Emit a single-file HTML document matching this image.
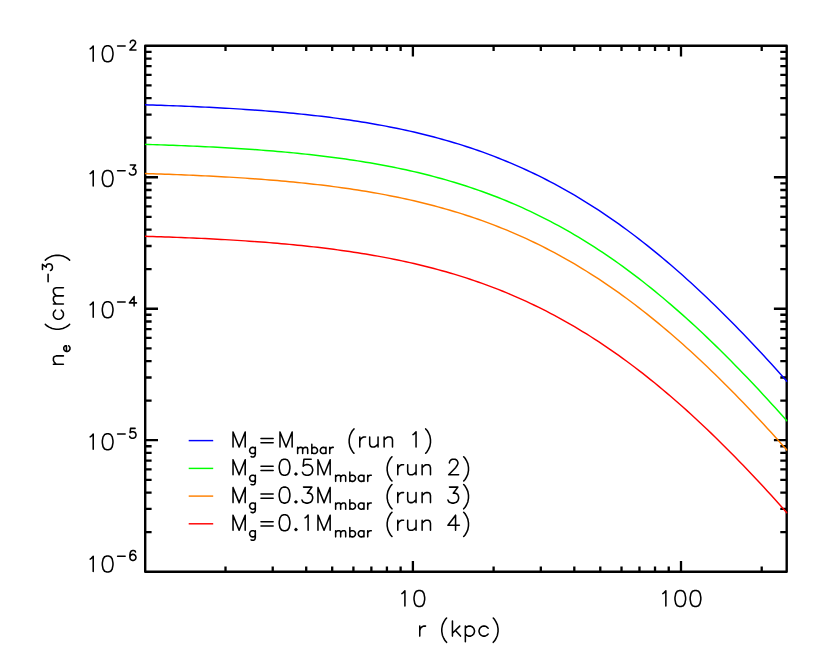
<!DOCTYPE html>
<html lang="en">
<head>
<meta charset="utf-8">
<title>Electron density profiles n_e(r)</title>
<style>
html,body{margin:0;padding:0;background:#ffffff;}
body{width:830px;height:664px;overflow:hidden;font-family:"Liberation Sans",sans-serif;}
svg{display:block;}
.lbl{font-family:"Liberation Sans",sans-serif;fill:#000;fill-opacity:0;stroke:none;}
</style>
</head>
<body>
<svg width="830" height="664" viewBox="0 0 830 664" role="img" aria-label="Log-log plot of electron density n_e (cm^-3) versus radius r (kpc) for four runs">
<rect x="0" y="0" width="830" height="664" fill="#ffffff"/>
<g fill="none" stroke="#000000" stroke-width="2.40" stroke-linejoin="round">
<rect x="145.20" y="45.80" width="641.50" height="525.90"/>
</g>
<path fill="none" stroke="#000000" stroke-width="2.30" d="M145.20 532.12h6.40 M786.70 532.12h-6.40 M145.20 508.97h6.40 M786.70 508.97h-6.40 M145.20 492.54h6.40 M786.70 492.54h-6.40 M145.20 479.80h6.40 M786.70 479.80h-6.40 M145.20 469.39h6.40 M786.70 469.39h-6.40 M145.20 460.59h6.40 M786.70 460.59h-6.40 M145.20 452.97h6.40 M786.70 452.97h-6.40 M145.20 446.24h6.40 M786.70 446.24h-6.40 M145.20 440.22h12.80 M786.70 440.22h-12.80 M145.20 400.65h6.40 M786.70 400.65h-6.40 M145.20 377.50h6.40 M786.70 377.50h-6.40 M145.20 361.07h6.40 M786.70 361.07h-6.40 M145.20 348.33h6.40 M786.70 348.33h-6.40 M145.20 337.92h6.40 M786.70 337.92h-6.40 M145.20 329.12h6.40 M786.70 329.12h-6.40 M145.20 321.49h6.40 M786.70 321.49h-6.40 M145.20 314.77h6.40 M786.70 314.77h-6.40 M145.20 308.75h12.80 M786.70 308.75h-12.80 M145.20 269.17h6.40 M786.70 269.17h-6.40 M145.20 246.02h6.40 M786.70 246.02h-6.40 M145.20 229.59h6.40 M786.70 229.59h-6.40 M145.20 216.85h6.40 M786.70 216.85h-6.40 M145.20 206.44h6.40 M786.70 206.44h-6.40 M145.20 197.64h6.40 M786.70 197.64h-6.40 M145.20 190.02h6.40 M786.70 190.02h-6.40 M145.20 183.29h6.40 M786.70 183.29h-6.40 M145.20 177.27h12.80 M786.70 177.27h-12.80 M145.20 137.70h6.40 M786.70 137.70h-6.40 M145.20 114.55h6.40 M786.70 114.55h-6.40 M145.20 98.12h6.40 M786.70 98.12h-6.40 M145.20 85.38h6.40 M786.70 85.38h-6.40 M145.20 74.97h6.40 M786.70 74.97h-6.40 M145.20 66.17h6.40 M786.70 66.17h-6.40 M145.20 58.54h6.40 M786.70 58.54h-6.40 M145.20 51.82h6.40 M786.70 51.82h-6.40 M225.51 571.70v-5.30 M225.51 45.80v5.30 M272.72 571.70v-5.30 M272.72 45.80v5.30 M306.21 571.70v-5.30 M306.21 45.80v5.30 M332.19 571.70v-5.30 M332.19 45.80v5.30 M353.42 571.70v-5.30 M353.42 45.80v5.30 M371.37 571.70v-5.30 M371.37 45.80v5.30 M386.92 571.70v-5.30 M386.92 45.80v5.30 M400.63 571.70v-5.30 M400.63 45.80v5.30 M412.90 571.70v-10.60 M412.90 45.80v10.60 M493.61 571.70v-5.30 M493.61 45.80v5.30 M540.82 571.70v-5.30 M540.82 45.80v5.30 M574.31 571.70v-5.30 M574.31 45.80v5.30 M600.29 571.70v-5.30 M600.29 45.80v5.30 M621.52 571.70v-5.30 M621.52 45.80v5.30 M639.47 571.70v-5.30 M639.47 45.80v5.30 M655.02 571.70v-5.30 M655.02 45.80v5.30 M668.73 571.70v-5.30 M668.73 45.80v5.30 M681.00 571.70v-10.60 M681.00 45.80v10.60 M761.71 571.70v-5.30 M761.71 45.80v5.30"/>
<clipPath id="pc"><rect x="144.60" y="45.80" width="643.00" height="525.90"/></clipPath>
<g fill="none" stroke-width="1.45" stroke-linejoin="round" clip-path="url(#pc)">
<path stroke="#0000ff" d="M144.90 104.82L148.91 104.94L152.93 105.06L156.94 105.19L160.96 105.32L164.97 105.46L168.99 105.60L173.00 105.75L177.02 105.90L181.03 106.05L185.05 106.22L189.06 106.38L193.08 106.56L197.09 106.74L201.11 106.92L205.12 107.11L209.14 107.31L213.15 107.51L217.17 107.73L221.19 107.94L225.20 108.17L229.21 108.40L233.23 108.64L237.25 108.89L241.26 109.14L245.27 109.41L249.29 109.68L253.31 109.96L257.32 110.25L261.33 110.55L265.35 110.86L269.37 111.18L273.38 111.51L277.39 111.84L281.41 112.19L285.43 112.55L289.44 112.93L293.45 113.31L297.47 113.70L301.49 114.11L305.50 114.53L309.51 114.96L313.53 115.41L317.55 115.87L321.56 116.34L325.57 116.83L329.59 117.33L333.61 117.85L337.62 118.38L341.63 118.93L345.65 119.50L349.67 120.08L353.68 120.68L357.69 121.30L361.71 121.93L365.73 122.59L369.74 123.26L373.75 123.95L377.77 124.67L381.79 125.40L385.80 126.15L389.81 126.93L393.83 127.73L397.85 128.55L401.86 129.39L405.88 130.26L409.89 131.15L413.91 132.06L417.92 133.00L421.94 133.97L425.95 134.96L429.97 135.98L433.98 137.03L438.00 138.10L442.01 139.21L446.03 140.34L450.04 141.50L454.06 142.69L458.07 143.92L462.09 145.17L466.10 146.46L470.12 147.78L474.13 149.13L478.15 150.52L482.16 151.94L486.18 153.39L490.19 154.88L494.21 156.41L498.22 157.97L502.24 159.57L506.25 161.21L510.27 162.88L514.28 164.59L518.30 166.35L522.31 168.14L526.33 169.97L530.34 171.84L534.36 173.75L538.37 175.71L542.38 177.70L546.40 179.74L550.41 181.82L554.43 183.94L558.45 186.11L562.46 188.32L566.48 190.57L570.49 192.87L574.51 195.21L578.52 197.60L582.54 200.03L586.55 202.51L590.57 205.03L594.58 207.60L598.60 210.21L602.61 212.87L606.62 215.57L610.64 218.32L614.65 221.12L618.67 223.96L622.69 226.84L626.70 229.78L630.72 232.76L634.73 235.78L638.75 238.85L642.76 241.97L646.78 245.13L650.79 248.33L654.81 251.58L658.82 254.88L662.84 258.22L666.85 261.60L670.87 265.03L674.88 268.50L678.90 272.02L682.91 275.58L686.93 279.18L690.94 282.82L694.96 286.50L698.97 290.23L702.99 294.00L707.00 297.81L711.02 301.65L715.03 305.54L719.05 309.47L723.06 313.43L727.08 317.44L731.09 321.48L735.11 325.56L739.12 329.67L743.14 333.82L747.15 338.01L751.17 342.23L755.18 346.49L759.20 350.78L763.21 355.10L767.23 359.46L771.24 363.85L775.26 368.27L779.27 372.72L783.29 377.20L787.30 381.71"/>
<path stroke="#00ff00" d="M144.90 144.39L148.91 144.51L152.93 144.64L156.94 144.76L160.96 144.90L164.97 145.03L168.99 145.18L173.00 145.32L177.02 145.47L181.03 145.63L185.05 145.79L189.06 145.96L193.08 146.14L197.09 146.31L201.11 146.50L205.12 146.69L209.14 146.89L213.15 147.09L217.17 147.30L221.19 147.52L225.20 147.75L229.21 147.98L233.23 148.22L237.25 148.47L241.26 148.72L245.27 148.99L249.29 149.26L253.31 149.54L257.32 149.83L261.33 150.13L265.35 150.44L269.37 150.76L273.38 151.08L277.39 151.42L281.41 151.77L285.43 152.13L289.44 152.50L293.45 152.89L297.47 153.28L301.49 153.69L305.50 154.11L309.51 154.54L313.53 154.99L317.55 155.45L321.56 155.92L325.57 156.41L329.59 156.91L333.61 157.43L337.62 157.96L341.63 158.51L345.65 159.08L349.67 159.66L353.68 160.26L357.69 160.88L361.71 161.51L365.73 162.17L369.74 162.84L373.75 163.53L377.77 164.24L381.79 164.98L385.80 165.73L389.81 166.51L393.83 167.30L397.85 168.12L401.86 168.97L405.88 169.83L409.89 170.72L413.91 171.64L417.92 172.58L421.94 173.55L425.95 174.54L429.97 175.56L433.98 176.61L438.00 177.68L442.01 178.78L446.03 179.92L450.04 181.08L454.06 182.27L458.07 183.49L462.09 184.75L466.10 186.04L470.12 187.36L474.13 188.71L478.15 190.09L482.16 191.51L486.18 192.97L490.19 194.46L494.21 195.98L498.22 197.55L502.24 199.15L506.25 200.78L510.27 202.46L514.28 204.17L518.30 205.92L522.31 207.71L526.33 209.55L530.34 211.42L534.36 213.33L538.37 215.29L542.38 217.28L546.40 219.32L550.41 221.40L554.43 223.52L558.45 225.69L562.46 227.90L566.48 230.15L570.49 232.45L574.51 234.79L578.52 237.18L582.54 239.61L586.55 242.09L590.57 244.61L594.58 247.17L598.60 249.79L602.61 252.44L606.62 255.15L610.64 257.90L614.65 260.69L618.67 263.53L622.69 266.42L626.70 269.36L630.72 272.33L634.73 275.36L638.75 278.43L642.76 281.54L646.78 284.70L650.79 287.91L654.81 291.16L658.82 294.46L662.84 297.80L666.85 301.18L670.87 304.61L674.88 308.08L678.90 311.60L682.91 315.15L686.93 318.75L690.94 322.40L694.96 326.08L698.97 329.81L702.99 333.58L707.00 337.38L711.02 341.23L715.03 345.12L719.05 349.05L723.06 353.01L727.08 357.02L731.09 361.06L735.11 365.14L739.12 369.25L743.14 373.40L747.15 377.59L751.17 381.81L755.18 386.07L759.20 390.36L763.21 394.68L767.23 399.04L771.24 403.43L775.26 407.85L779.27 412.30L783.29 416.78L787.30 421.29"/>
<path stroke="#ff8000" d="M144.90 173.56L148.91 173.68L152.93 173.80L156.94 173.93L160.96 174.06L164.97 174.20L168.99 174.34L173.00 174.49L177.02 174.64L181.03 174.80L185.05 174.96L189.06 175.13L193.08 175.30L197.09 175.48L201.11 175.67L205.12 175.86L209.14 176.06L213.15 176.26L217.17 176.47L221.19 176.69L225.20 176.91L229.21 177.15L233.23 177.39L237.25 177.63L241.26 177.89L245.27 178.15L249.29 178.43L253.31 178.71L257.32 179.00L261.33 179.30L265.35 179.60L269.37 179.92L273.38 180.25L277.39 180.59L281.41 180.94L285.43 181.30L289.44 181.67L293.45 182.05L297.47 182.45L301.49 182.86L305.50 183.28L309.51 183.71L313.53 184.16L317.55 184.61L321.56 185.09L325.57 185.58L329.59 186.08L333.61 186.60L337.62 187.13L341.63 187.68L345.65 188.24L349.67 188.83L353.68 189.43L357.69 190.04L361.71 190.68L365.73 191.33L369.74 192.01L373.75 192.70L377.77 193.41L381.79 194.14L385.80 194.90L389.81 195.67L393.83 196.47L397.85 197.29L401.86 198.13L405.88 199.00L409.89 199.89L413.91 200.81L417.92 201.75L421.94 202.71L425.95 203.71L429.97 204.73L433.98 205.77L438.00 206.85L442.01 207.95L446.03 209.08L450.04 210.25L454.06 211.44L458.07 212.66L462.09 213.92L466.10 215.20L470.12 216.52L474.13 217.88L478.15 219.26L482.16 220.68L486.18 222.14L490.19 223.63L494.21 225.15L498.22 226.71L502.24 228.31L506.25 229.95L510.27 231.63L514.28 233.34L518.30 235.09L522.31 236.88L526.33 238.71L530.34 240.59L534.36 242.50L538.37 244.45L542.38 246.45L546.40 248.49L550.41 250.57L554.43 252.69L558.45 254.86L562.46 257.07L566.48 259.32L570.49 261.62L574.51 263.96L578.52 266.34L582.54 268.78L586.55 271.25L590.57 273.77L594.58 276.34L598.60 278.95L602.61 281.61L606.62 284.32L610.64 287.07L614.65 289.86L618.67 292.70L622.69 295.59L626.70 298.52L630.72 301.50L634.73 304.53L638.75 307.60L642.76 310.71L646.78 313.87L650.79 317.08L654.81 320.33L658.82 323.62L662.84 326.96L666.85 330.35L670.87 333.78L674.88 337.25L678.90 340.76L682.91 344.32L686.93 347.92L690.94 351.56L694.96 355.25L698.97 358.98L702.99 362.74L707.00 366.55L711.02 370.40L715.03 374.29L719.05 378.21L723.06 382.18L727.08 386.18L731.09 390.22L735.11 394.30L739.12 398.42L743.14 402.57L747.15 406.76L751.17 410.98L755.18 415.24L759.20 419.53L763.21 423.85L767.23 428.21L771.24 432.59L775.26 437.01L779.27 441.47L783.29 445.95L787.30 450.46"/>
<path stroke="#ff0000" d="M144.90 236.29L148.91 236.41L152.93 236.53L156.94 236.66L160.96 236.79L164.97 236.93L168.99 237.07L173.00 237.22L177.02 237.37L181.03 237.53L185.05 237.69L189.06 237.86L193.08 238.03L197.09 238.21L201.11 238.40L205.12 238.59L209.14 238.79L213.15 238.99L217.17 239.20L221.19 239.42L225.20 239.64L229.21 239.88L233.23 240.12L237.25 240.36L241.26 240.62L245.27 240.88L249.29 241.16L253.31 241.44L257.32 241.73L261.33 242.03L265.35 242.33L269.37 242.65L273.38 242.98L277.39 243.32L281.41 243.67L285.43 244.03L289.44 244.40L293.45 244.78L297.47 245.18L301.49 245.59L305.50 246.01L309.51 246.44L313.53 246.88L317.55 247.34L321.56 247.82L325.57 248.31L329.59 248.81L333.61 249.33L337.62 249.86L341.63 250.41L345.65 250.97L349.67 251.56L353.68 252.16L357.69 252.77L361.71 253.41L365.73 254.06L369.74 254.74L373.75 255.43L377.77 256.14L381.79 256.87L385.80 257.63L389.81 258.40L393.83 259.20L397.85 260.02L401.86 260.86L405.88 261.73L409.89 262.62L413.91 263.54L417.92 264.48L421.94 265.44L425.95 266.44L429.97 267.46L433.98 268.50L438.00 269.58L442.01 270.68L446.03 271.81L450.04 272.98L454.06 274.17L458.07 275.39L462.09 276.65L466.10 277.93L470.12 279.25L474.13 280.60L478.15 281.99L482.16 283.41L486.18 284.87L490.19 286.36L494.21 287.88L498.22 289.44L502.24 291.04L506.25 292.68L510.27 294.35L514.28 296.07L518.30 297.82L522.31 299.61L526.33 301.44L530.34 303.32L534.36 305.23L538.37 307.18L542.38 309.18L546.40 311.22L550.41 313.30L554.43 315.42L558.45 317.59L562.46 319.79L566.48 322.05L570.49 324.35L574.51 326.69L578.52 329.07L582.54 331.51L586.55 333.98L590.57 336.50L594.58 339.07L598.60 341.68L602.61 344.34L606.62 347.05L610.64 349.80L614.65 352.59L618.67 355.43L622.69 358.32L626.70 361.25L630.72 364.23L634.73 367.26L638.75 370.33L642.76 373.44L646.78 376.60L650.79 379.81L654.81 383.06L658.82 386.35L662.84 389.69L666.85 393.08L670.87 396.51L674.88 399.98L678.90 403.49L682.91 407.05L686.93 410.65L690.94 414.29L694.96 417.98L698.97 421.71L702.99 425.47L707.00 429.28L711.02 433.13L715.03 437.02L719.05 440.94L723.06 444.91L727.08 448.91L731.09 452.95L735.11 457.03L739.12 461.15L743.14 465.30L747.15 469.49L751.17 473.71L755.18 477.96L759.20 482.26L763.21 486.58L767.23 490.94L771.24 495.32L775.26 499.74L779.27 504.20L783.29 508.68L787.30 513.19"/>
</g>
<g fill="none" stroke-width="1.45">
<path stroke="#0000ff" d="M188.7 440.60H213.2"/>
<path stroke="#00ff00" d="M188.7 468.40H213.2"/>
<path stroke="#ff8000" d="M188.7 496.10H213.2"/>
<path stroke="#ff0000" d="M188.7 523.80H213.2"/>
</g>
<g fill="none" stroke="#000000" stroke-width="1.55" stroke-linecap="round" stroke-linejoin="round">
<path d="M90.17 48.88L91.31 48.16L93.21 46.09L93.21 61.30 M106.89 45.81L104.61 46.57L103.09 48.85L102.33 52.66L102.33 54.95L103.09 58.75L104.61 61.04L106.89 61.80L108.41 61.80L110.69 61.04L112.21 58.75L112.97 54.95L112.97 52.66L112.21 48.85L110.69 46.57L108.41 45.81L106.89 45.81 M117.61 46.00L125.15 46.00 M130.30 42.66L130.30 42.21L130.74 41.29L131.17 40.83L132.05 40.38L133.80 40.38L134.67 40.83L135.11 41.29L135.55 42.21L135.55 43.12L135.11 44.04L134.24 45.41L129.86 49.98L135.99 49.98"/>
<path d="M90.17 173.58L91.31 172.86L93.21 170.79L93.21 186.00 M106.89 170.51L104.61 171.27L103.09 173.55L102.33 177.36L102.33 179.65L103.09 183.45L104.61 185.74L106.89 186.50L108.41 186.50L110.69 185.74L112.21 183.45L112.97 179.65L112.97 177.36L112.21 173.55L110.69 171.27L108.41 170.51L106.89 170.51 M117.61 170.70L125.15 170.70 M130.33 165.08L135.52 165.08L132.69 168.85L134.10 168.85L135.04 169.33L135.52 169.80L135.99 171.22L135.99 172.16L135.52 173.58L134.57 174.52L133.16 174.99L131.75 174.99L130.33 174.52L129.86 174.05L129.39 173.10"/>
<path d="M90.17 304.88L91.31 304.16L93.21 302.09L93.21 317.30 M106.89 301.81L104.61 302.57L103.09 304.85L102.33 308.66L102.33 310.95L103.09 314.75L104.61 317.04L106.89 317.80L108.41 317.80L110.69 317.04L112.21 314.75L112.97 310.95L112.97 308.66L112.21 304.85L110.69 302.57L108.41 301.81L106.89 301.81 M117.61 302.00L125.15 302.00 M134.10 296.69L129.39 302.88L136.46 302.88 M134.10 296.69L134.10 305.98"/>
<path d="M90.17 436.88L91.31 436.16L93.21 434.09L93.21 449.30 M106.89 433.81L104.61 434.57L103.09 436.85L102.33 440.66L102.33 442.95L103.09 446.75L104.61 449.04L106.89 449.80L108.41 449.80L110.69 449.04L112.21 446.75L112.97 442.95L112.97 440.66L112.21 436.85L110.69 434.57L108.41 433.81L106.89 433.81 M117.61 434.00L125.15 434.00 M135.08 428.38L130.56 428.38L130.11 432.63L130.56 432.15L131.92 431.68L133.27 431.68L134.63 432.15L135.53 433.10L135.99 434.52L135.99 435.46L135.53 436.88L134.63 437.82L133.27 438.29L131.92 438.29L130.56 437.82L130.11 437.35L129.65 436.40"/>
<path d="M90.17 559.08L91.31 558.36L93.21 556.29L93.21 571.50 M106.89 556.01L104.61 556.77L103.09 559.05L102.33 562.86L102.33 565.15L103.09 568.95L104.61 571.24L106.89 572.00L108.41 572.00L110.69 571.24L112.21 568.95L112.97 565.15L112.97 562.86L112.21 559.05L110.69 556.77L108.41 556.01L106.89 556.01 M117.61 556.20L125.15 556.20 M135.52 551.99L135.04 551.05L133.63 550.58L132.69 550.58L131.27 551.05L130.33 552.47L129.86 554.83L129.86 557.19L130.33 559.08L131.27 560.02L132.69 560.49L133.16 560.49L134.57 560.02L135.52 559.08L135.99 557.66L135.99 557.19L135.52 555.77L134.57 554.83L133.16 554.35L132.69 554.35L131.27 554.83L130.33 555.77L129.86 557.19"/>
<path d="M401.87 593.58L403.01 592.86L404.91 590.79L404.91 606.00 M418.59 590.51L416.31 591.27L414.79 593.55L414.03 597.36L414.03 599.65L414.79 603.45L416.31 605.74L418.59 606.50L420.11 606.50L422.39 605.74L423.91 603.45L424.67 599.65L424.67 597.36L423.91 593.55L422.39 591.27L420.11 590.51L418.59 590.51"/>
<path d="M662.82 593.58L663.96 592.86L665.86 590.79L665.86 606.00 M679.54 590.51L677.26 591.27L675.74 593.55L674.98 597.36L674.98 599.65L675.74 603.45L677.26 605.74L679.54 606.50L681.06 606.50L683.34 605.74L684.86 603.45L685.62 599.65L685.62 597.36L684.86 593.55L683.34 591.27L681.06 590.51L679.54 590.51 M694.74 590.51L692.46 591.27L690.94 593.55L690.18 597.36L690.18 599.65L690.94 603.45L692.46 605.74L694.74 606.50L696.26 606.50L698.54 605.74L700.06 603.45L700.82 599.65L700.82 597.36L700.06 593.55L698.54 591.27L696.26 590.51L694.74 590.51"/>
<path d="M419.76 626.10L419.76 636.10 M419.76 630.39L420.52 628.25L422.04 626.82L423.56 626.10L425.54 626.10 M446.59 618.04L445.22 619.55L443.85 621.83L442.48 624.86L441.80 628.66L441.80 631.69L442.48 635.48L443.85 638.52L445.22 640.79L446.59 642.31 M452.44 621.11L452.44 636.10 M459.74 626.10L452.44 633.24 M455.48 630.39L460.50 636.10 M465.36 626.10L465.36 641.70 M465.36 628.25L466.88 626.82L468.40 626.10L470.68 626.10L472.20 626.82L473.72 628.25L474.48 630.39L474.48 631.82L473.72 633.96L472.20 635.39L470.68 636.10L468.40 636.10L466.88 635.39L465.36 633.96 M488.16 628.25L486.64 626.82L485.12 626.10L482.84 626.10L481.32 626.82L479.80 628.25L479.04 630.39L479.04 631.82L479.80 633.96L481.32 635.39L482.84 636.10L485.12 636.10L486.64 635.39L488.16 633.96 M493.25 618.04L494.62 619.55L495.99 621.83L497.36 624.86L498.04 628.66L498.04 631.69L497.36 635.48L495.99 638.52L494.62 640.79L493.25 642.31"/>
<path d="M53.40 364.25L63.40 364.25 M56.26 364.25L54.12 361.97L53.40 360.45L53.40 358.17L54.12 356.65L56.26 355.89L63.40 355.89 M66.43 351.44L66.43 345.79L65.54 345.79L64.66 346.26L64.21 346.73L63.77 347.67L63.77 349.08L64.21 350.03L65.10 350.97L66.43 351.44L67.31 351.44L68.64 350.97L69.53 350.03L69.97 349.08L69.97 347.67L69.53 346.73L68.64 345.79 M45.34 324.38L46.85 325.75L49.13 327.12L52.16 328.49L55.96 329.17L58.99 329.17L62.78 328.49L65.82 327.12L68.09 325.75L69.61 324.38 M55.55 310.17L54.12 311.69L53.40 313.21L53.40 315.49L54.12 317.01L55.55 318.53L57.69 319.29L59.12 319.29L61.26 318.53L62.69 317.01L63.40 315.49L63.40 313.21L62.69 311.69L61.26 310.17 M53.40 303.94L63.40 303.94 M56.26 303.94L54.12 301.73L53.40 300.26L53.40 298.05L54.12 296.58L56.26 295.85L63.40 295.85 M56.26 295.85L54.12 293.64L53.40 292.17L53.40 289.96L54.12 288.49L56.26 287.75L63.40 287.75 M48.10 281.75L48.10 274.21 M42.48 269.52L42.48 264.34L46.25 267.16L46.25 265.75L46.73 264.81L47.20 264.34L48.62 263.87L49.56 263.87L50.98 264.34L51.92 265.28L52.39 266.69L52.39 268.11L51.92 269.52L51.45 269.99L50.50 270.46 M45.34 260.13L46.85 258.77L49.13 257.40L52.16 256.03L55.96 255.35L58.99 255.35L62.78 256.03L65.82 257.40L68.09 258.77L69.61 260.13"/>
<path d="M233.04 432.01L233.04 447.00 M233.04 432.01L239.12 447.00 M245.20 432.01L239.12 447.00 M245.20 432.01L245.20 447.00 M255.31 447.37L255.31 454.56L254.84 456.05L254.37 456.54L253.42 457.04L252.01 457.04L251.07 456.54 M255.31 448.70L254.37 447.81L253.42 447.37L252.01 447.37L251.07 447.81L250.12 448.70L249.65 450.03L249.65 450.91L250.12 452.24L251.07 453.13L252.01 453.57L253.42 453.57L254.37 453.13L255.31 452.24 M260.99 438.43L273.15 438.43 M260.99 442.72L273.15 442.72 M279.99 432.01L279.99 447.00 M279.99 432.01L286.07 447.00 M292.15 432.01L286.07 447.00 M292.15 432.01L292.15 447.00 M297.64 447.37L297.64 453.57 M297.64 449.14L299.01 447.81L299.92 447.37L301.29 447.37L302.21 447.81L302.66 449.14L302.66 453.57 M302.66 449.14L304.03 447.81L304.94 447.37L306.31 447.37L307.22 447.81L307.68 449.14L307.68 453.57 M311.83 444.27L311.83 453.57 M311.83 448.70L312.77 447.81L313.71 447.37L315.12 447.37L316.07 447.81L317.01 448.70L317.48 450.03L317.48 450.91L317.01 452.24L316.07 453.13L315.12 453.57L313.71 453.57L312.77 453.13L311.83 452.24 M325.96 447.37L325.96 453.57 M325.96 448.70L325.02 447.81L324.08 447.37L322.66 447.37L321.72 447.81L320.78 448.70L320.31 450.03L320.31 450.91L320.78 452.24L321.72 453.13L322.66 453.57L324.08 453.57L325.02 453.13L325.96 452.24 M329.73 447.37L329.73 453.57 M329.73 450.03L330.20 448.70L331.15 447.81L332.09 447.37L333.31 447.37 M353.96 428.94L352.59 430.45L351.22 432.73L349.86 435.76L349.17 439.56L349.17 442.59L349.86 446.38L351.22 449.42L352.59 451.69L353.96 453.21 M359.81 437.00L359.81 447.00 M359.81 441.29L360.57 439.15L362.09 437.72L363.61 437.00L365.59 437.00 M369.69 437.00L369.69 444.14L370.45 446.29L371.97 447.00L374.25 447.00L375.77 446.29L378.05 444.14 M378.05 437.00L378.05 447.00 M384.13 437.00L384.13 447.00 M384.13 439.86L386.41 437.72L387.93 437.00L390.21 437.00L391.73 437.72L392.49 439.86L392.49 447.00 M413.01 434.58L414.15 433.86L416.05 431.79L416.05 447.00 M425.70 428.94L427.07 430.45L428.44 432.73L429.81 435.76L430.49 439.56L430.49 442.59L429.81 446.38L428.44 449.42L427.07 451.69L425.70 453.21"/>
<path d="M233.04 459.81L233.04 474.80 M233.04 459.81L239.12 474.80 M245.20 459.81L239.12 474.80 M245.20 459.81L245.20 474.80 M255.31 475.17L255.31 482.36L254.84 483.85L254.37 484.34L253.42 484.84L252.01 484.84L251.07 484.34 M255.31 476.50L254.37 475.61L253.42 475.17L252.01 475.17L251.07 475.61L250.12 476.50L249.65 477.83L249.65 478.71L250.12 480.04L251.07 480.93L252.01 481.37L253.42 481.37L254.37 480.93L255.31 480.04 M260.99 466.23L273.15 466.23 M260.99 470.52L273.15 470.52 M283.79 459.31L281.51 460.07L279.99 462.35L279.23 466.16L279.23 468.45L279.99 472.25L281.51 474.54L283.79 475.30L285.31 475.30L287.59 474.54L289.11 472.25L289.87 468.45L289.87 466.16L289.11 462.35L287.59 460.07L285.31 459.31L283.79 459.31 M295.95 473.16L294.96 474.09L295.95 475.01L296.94 474.09L295.95 473.16 M311.21 459.31L303.92 459.31L303.19 466.16L303.92 465.40L306.11 464.64L308.30 464.64L310.48 465.40L311.94 466.92L312.67 469.21L312.67 470.73L311.94 473.01L310.48 474.54L308.30 475.30L306.11 475.30L303.92 474.54L303.19 473.78L302.46 472.25 M317.99 459.81L317.99 474.80 M317.99 459.81L324.07 474.80 M330.15 459.81L324.07 474.80 M330.15 459.81L330.15 474.80 M335.64 475.17L335.64 481.37 M335.64 476.94L337.01 475.61L337.92 475.17L339.29 475.17L340.21 475.61L340.66 476.94L340.66 481.37 M340.66 476.94L342.03 475.61L342.94 475.17L344.31 475.17L345.22 475.61L345.68 476.94L345.68 481.37 M349.83 472.07L349.83 481.37 M349.83 476.50L350.77 475.61L351.71 475.17L353.12 475.17L354.07 475.61L355.01 476.50L355.48 477.83L355.48 478.71L355.01 480.04L354.07 480.93L353.12 481.37L351.71 481.37L350.77 480.93L349.83 480.04 M363.96 475.17L363.96 481.37 M363.96 476.50L363.02 475.61L362.08 475.17L360.66 475.17L359.72 475.61L358.78 476.50L358.31 477.83L358.31 478.71L358.78 480.04L359.72 480.93L360.66 481.37L362.08 481.37L363.02 480.93L363.96 480.04 M367.73 475.17L367.73 481.37 M367.73 477.83L368.20 476.50L369.15 475.61L370.09 475.17L371.31 475.17 M391.96 456.74L390.59 458.25L389.22 460.53L387.86 463.56L387.17 467.36L387.17 470.39L387.86 474.18L389.22 477.22L390.59 479.49L391.96 481.01 M397.81 464.80L397.81 474.80 M397.81 469.09L398.57 466.95L400.09 465.52L401.61 464.80L403.59 464.80 M407.69 464.80L407.69 471.94L408.45 474.09L409.97 474.80L412.25 474.80L413.77 474.09L416.05 471.94 M416.05 464.80L416.05 474.80 M422.13 464.80L422.13 474.80 M422.13 467.66L424.41 465.52L425.93 464.80L428.21 464.80L429.73 465.52L430.49 467.66L430.49 474.80 M449.44 463.00L449.44 462.26L450.14 460.78L450.85 460.04L452.26 459.31L455.08 459.31L456.50 460.04L457.20 460.78L457.91 462.26L457.91 463.73L457.20 465.21L455.79 467.42L448.73 474.80L458.61 474.80 M463.70 456.74L465.07 458.25L466.44 460.53L467.81 463.56L468.49 467.36L468.49 470.39L467.81 474.18L466.44 477.22L465.07 479.49L463.70 481.01"/>
<path d="M233.04 487.61L233.04 502.60 M233.04 487.61L239.12 502.60 M245.20 487.61L239.12 502.60 M245.20 487.61L245.20 502.60 M255.31 502.97L255.31 510.16L254.84 511.65L254.37 512.14L253.42 512.64L252.01 512.64L251.07 512.14 M255.31 504.30L254.37 503.41L253.42 502.97L252.01 502.97L251.07 503.41L250.12 504.30L249.65 505.63L249.65 506.51L250.12 507.84L251.07 508.73L252.01 509.17L253.42 509.17L254.37 508.73L255.31 507.84 M260.99 494.03L273.15 494.03 M260.99 498.32L273.15 498.32 M283.79 487.11L281.51 487.87L279.99 490.15L279.23 493.96L279.23 496.25L279.99 500.05L281.51 502.34L283.79 503.10L285.31 503.10L287.59 502.34L289.11 500.05L289.87 496.25L289.87 493.96L289.11 490.15L287.59 487.87L285.31 487.11L283.79 487.11 M295.95 500.96L294.96 501.89L295.95 502.81L296.94 501.89L295.95 500.96 M303.55 487.11L311.91 487.11L307.35 493.20L309.63 493.20L311.15 493.96L311.91 494.72L312.67 497.01L312.67 498.53L311.91 500.81L310.39 502.34L308.11 503.10L305.83 503.10L303.55 502.34L302.79 501.58L302.03 500.05 M317.99 487.61L317.99 502.60 M317.99 487.61L324.07 502.60 M330.15 487.61L324.07 502.60 M330.15 487.61L330.15 502.60 M335.64 502.97L335.64 509.17 M335.64 504.74L337.01 503.41L337.92 502.97L339.29 502.97L340.21 503.41L340.66 504.74L340.66 509.17 M340.66 504.74L342.03 503.41L342.94 502.97L344.31 502.97L345.22 503.41L345.68 504.74L345.68 509.17 M349.83 499.87L349.83 509.17 M349.83 504.30L350.77 503.41L351.71 502.97L353.12 502.97L354.07 503.41L355.01 504.30L355.48 505.63L355.48 506.51L355.01 507.84L354.07 508.73L353.12 509.17L351.71 509.17L350.77 508.73L349.83 507.84 M363.96 502.97L363.96 509.17 M363.96 504.30L363.02 503.41L362.08 502.97L360.66 502.97L359.72 503.41L358.78 504.30L358.31 505.63L358.31 506.51L358.78 507.84L359.72 508.73L360.66 509.17L362.08 509.17L363.02 508.73L363.96 507.84 M367.73 502.97L367.73 509.17 M367.73 505.63L368.20 504.30L369.15 503.41L370.09 502.97L371.31 502.97 M391.96 484.54L390.59 486.05L389.22 488.33L387.86 491.36L387.17 495.16L387.17 498.19L387.86 501.98L389.22 505.02L390.59 507.29L391.96 508.81 M397.81 492.60L397.81 502.60 M397.81 496.89L398.57 494.75L400.09 493.32L401.61 492.60L403.59 492.60 M407.69 492.60L407.69 499.74L408.45 501.89L409.97 502.60L412.25 502.60L413.77 501.89L416.05 499.74 M416.05 492.60L416.05 502.60 M422.13 492.60L422.13 502.60 M422.13 495.46L424.41 493.32L425.93 492.60L428.21 492.60L429.73 493.32L430.49 495.46L430.49 502.60 M449.49 487.11L457.85 487.11L453.29 493.20L455.57 493.20L457.09 493.96L457.85 494.72L458.61 497.01L458.61 498.53L457.85 500.81L456.33 502.34L454.05 503.10L451.77 503.10L449.49 502.34L448.73 501.58L447.97 500.05 M463.70 484.54L465.07 486.05L466.44 488.33L467.81 491.36L468.49 495.16L468.49 498.19L467.81 501.98L466.44 505.02L465.07 507.29L463.70 508.81"/>
<path d="M233.04 515.31L233.04 530.30 M233.04 515.31L239.12 530.30 M245.20 515.31L239.12 530.30 M245.20 515.31L245.20 530.30 M255.31 530.67L255.31 537.86L254.84 539.35L254.37 539.84L253.42 540.34L252.01 540.34L251.07 539.84 M255.31 532.00L254.37 531.11L253.42 530.67L252.01 530.67L251.07 531.11L250.12 532.00L249.65 533.33L249.65 534.21L250.12 535.54L251.07 536.43L252.01 536.87L253.42 536.87L254.37 536.43L255.31 535.54 M260.99 521.73L273.15 521.73 M260.99 526.02L273.15 526.02 M283.79 514.81L281.51 515.57L279.99 517.85L279.23 521.66L279.23 523.95L279.99 527.75L281.51 530.04L283.79 530.80L285.31 530.80L287.59 530.04L289.11 527.75L289.87 523.95L289.87 521.66L289.11 517.85L287.59 515.57L285.31 514.81L283.79 514.81 M295.95 528.66L294.96 529.59L295.95 530.51L296.94 529.59L295.95 528.66 M305.07 517.88L306.21 517.16L308.11 515.09L308.11 530.30 M317.99 515.31L317.99 530.30 M317.99 515.31L324.07 530.30 M330.15 515.31L324.07 530.30 M330.15 515.31L330.15 530.30 M335.64 530.67L335.64 536.87 M335.64 532.44L337.01 531.11L337.92 530.67L339.29 530.67L340.21 531.11L340.66 532.44L340.66 536.87 M340.66 532.44L342.03 531.11L342.94 530.67L344.31 530.67L345.22 531.11L345.68 532.44L345.68 536.87 M349.83 527.57L349.83 536.87 M349.83 532.00L350.77 531.11L351.71 530.67L353.12 530.67L354.07 531.11L355.01 532.00L355.48 533.33L355.48 534.21L355.01 535.54L354.07 536.43L353.12 536.87L351.71 536.87L350.77 536.43L349.83 535.54 M363.96 530.67L363.96 536.87 M363.96 532.00L363.02 531.11L362.08 530.67L360.66 530.67L359.72 531.11L358.78 532.00L358.31 533.33L358.31 534.21L358.78 535.54L359.72 536.43L360.66 536.87L362.08 536.87L363.02 536.43L363.96 535.54 M367.73 530.67L367.73 536.87 M367.73 533.33L368.20 532.00L369.15 531.11L370.09 530.67L371.31 530.67 M391.96 512.24L390.59 513.75L389.22 516.03L387.86 519.06L387.17 522.86L387.17 525.89L387.86 529.68L389.22 532.72L390.59 534.99L391.96 536.51 M397.81 520.30L397.81 530.30 M397.81 524.59L398.57 522.45L400.09 521.02L401.61 520.30L403.59 520.30 M407.69 520.30L407.69 527.44L408.45 529.59L409.97 530.30L412.25 530.30L413.77 529.59L416.05 527.44 M416.05 520.30L416.05 530.30 M422.13 520.30L422.13 530.30 M422.13 523.16L424.41 521.02L425.93 520.30L428.21 520.30L429.73 521.02L430.49 523.16L430.49 530.30 M455.57 515.31L447.97 525.30L459.37 525.30 M455.57 515.31L455.57 530.30 M463.70 512.24L465.07 513.75L466.44 516.03L467.81 519.06L468.49 522.86L468.49 525.89L467.81 529.68L466.44 532.72L465.07 534.99L463.70 536.51"/>
</g>
<g class="lbl">
<text x="137.4" y="61.3" font-size="20" text-anchor="end" textLength="52.5" lengthAdjust="spacing"><tspan dy="0" font-size="20">10</tspan><tspan dy="-8" font-size="12">−2</tspan></text>
<text x="137.4" y="186.0" font-size="20" text-anchor="end" textLength="52.5" lengthAdjust="spacing"><tspan dy="0" font-size="20">10</tspan><tspan dy="-8" font-size="12">−3</tspan></text>
<text x="137.4" y="317.3" font-size="20" text-anchor="end" textLength="52.5" lengthAdjust="spacing"><tspan dy="0" font-size="20">10</tspan><tspan dy="-8" font-size="12">−4</tspan></text>
<text x="137.4" y="449.3" font-size="20" text-anchor="end" textLength="52.5" lengthAdjust="spacing"><tspan dy="0" font-size="20">10</tspan><tspan dy="-8" font-size="12">−5</tspan></text>
<text x="137.4" y="571.5" font-size="20" text-anchor="end" textLength="52.5" lengthAdjust="spacing"><tspan dy="0" font-size="20">10</tspan><tspan dy="-8" font-size="12">−6</tspan></text>
<text x="411.8" y="606.0" font-size="20" text-anchor="middle" textLength="30.4" lengthAdjust="spacing">10</text>
<text x="680.3" y="606.0" font-size="20" text-anchor="middle" textLength="45.6" lengthAdjust="spacing">100</text>
<text x="458.9" y="636.1" font-size="20" text-anchor="middle" textLength="84.4" lengthAdjust="spacing">r (kpc)</text>
<text x="63.4" y="309.8" font-size="20" text-anchor="middle" textLength="115.0" lengthAdjust="spacing" transform="rotate(-90 63.4 309.8)"><tspan dy="0" font-size="20">n</tspan><tspan dy="4" font-size="12">e</tspan><tspan dy="-4" font-size="20"> (cm</tspan><tspan dy="-8" font-size="12">−3</tspan><tspan dy="8" font-size="20">)</tspan></text>
<text x="230.0" y="447.0" font-size="20" text-anchor="start" textLength="203.5" lengthAdjust="spacing"><tspan dy="0" font-size="20">M</tspan><tspan dy="4" font-size="12">g</tspan><tspan dy="-4" font-size="20">=M</tspan><tspan dy="4" font-size="12">mbar</tspan><tspan dy="-4" font-size="20"> (run 1)</tspan></text>
<text x="230.0" y="474.8" font-size="20" text-anchor="start" textLength="241.5" lengthAdjust="spacing"><tspan dy="0" font-size="20">M</tspan><tspan dy="4" font-size="12">g</tspan><tspan dy="-4" font-size="20">=0.5M</tspan><tspan dy="4" font-size="12">mbar</tspan><tspan dy="-4" font-size="20"> (run 2)</tspan></text>
<text x="230.0" y="502.6" font-size="20" text-anchor="start" textLength="241.5" lengthAdjust="spacing"><tspan dy="0" font-size="20">M</tspan><tspan dy="4" font-size="12">g</tspan><tspan dy="-4" font-size="20">=0.3M</tspan><tspan dy="4" font-size="12">mbar</tspan><tspan dy="-4" font-size="20"> (run 3)</tspan></text>
<text x="230.0" y="530.3" font-size="20" text-anchor="start" textLength="241.5" lengthAdjust="spacing"><tspan dy="0" font-size="20">M</tspan><tspan dy="4" font-size="12">g</tspan><tspan dy="-4" font-size="20">=0.1M</tspan><tspan dy="4" font-size="12">mbar</tspan><tspan dy="-4" font-size="20"> (run 4)</tspan></text>
</g>
</svg>
</body>
</html>
